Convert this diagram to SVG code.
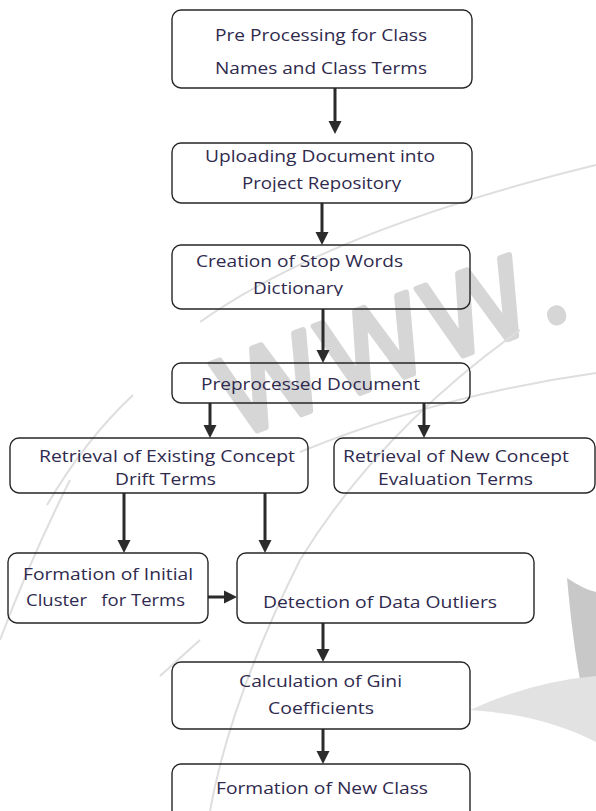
<svg xmlns="http://www.w3.org/2000/svg" width="596" height="811" viewBox="0 0 596 811">
<style>
.box{fill:none;stroke:#262626;stroke-width:1.4}
.t{font-family:"Open Sans","Liberation Sans",sans-serif;font-size:16.5px;fill:#2f2a4e}
.c{stroke:#2b2b2b;stroke-width:3;fill:none}
.wm{fill:none;stroke:#dedede;stroke-width:2}
</style>
<defs>
<marker id="ah" markerUnits="userSpaceOnUse" markerWidth="14" markerHeight="14" refX="3" refY="7" orient="auto">
<path d="M0,0.5 L13,7 L0,13.5 z" fill="#2b2b2b"/>
</marker>
<clipPath id="clipA"><rect x="0" y="170" width="596" height="22"/></clipPath>
<clipPath id="clipB"><rect x="0" y="275" width="596" height="21"/></clipPath>
</defs>
<rect width="596" height="811" fill="#ffffff"/>
<g id="watermark">
<text x="236" y="438" transform="rotate(-20 236 438)" font-family="Open Sans, Liberation Sans, sans-serif" font-size="110" letter-spacing="8" fill="#d6d6d6" stroke="#d6d6d6" stroke-width="6" stroke-linejoin="round">WWW.</text>
<path class="wm" d="M200,322 Q330,230 596,165"/>
<path class="wm" d="M300,452 Q440,395 596,373"/>
<path class="wm" d="M47,505 Q85,440 133,395"/>
<path class="wm" d="M0,640 Q30,560 70,480"/>
<path class="wm" d="M210,811 Q230,700 300,560 Q380,430 520,330"/>
<path class="wm" d="M160,676 L200,640"/>
<path d="M567,578 Q585,590 596,592 L596,735 Q578,700 567,578 Z" fill="#c8c8c8"/>
<path d="M470,710 Q530,682 596,676 L596,742 Q540,714 470,710 Z" fill="#e2e2e2"/>
</g>
<g id="connectors">
<line class="c" x1="335" y1="88" x2="335" y2="124" marker-end="url(#ah)"/>
<line class="c" x1="322" y1="203" x2="322" y2="235" marker-end="url(#ah)"/>
<line class="c" x1="323" y1="309" x2="323" y2="353" marker-end="url(#ah)"/>
<line class="c" x1="210" y1="403" x2="210" y2="428" marker-end="url(#ah)"/>
<line class="c" x1="424" y1="403" x2="424" y2="428" marker-end="url(#ah)"/>
<line class="c" x1="124" y1="493" x2="124" y2="543" marker-end="url(#ah)"/>
<line class="c" x1="265" y1="493" x2="265" y2="543" marker-end="url(#ah)"/>
<line class="c" x1="208" y1="597" x2="227" y2="597" marker-end="url(#ah)"/>
<line class="c" x1="323" y1="623" x2="323" y2="652" marker-end="url(#ah)"/>
<line class="c" x1="323" y1="729" x2="323" y2="754" marker-end="url(#ah)"/>
</g>
<g id="n1">
<rect class="box" x="172" y="10" width="300" height="78" rx="9"/>
<text class="t" x="215" y="41" textLength="212" lengthAdjust="spacingAndGlyphs">Pre Processing for Class</text>
<text class="t" x="215" y="74" textLength="212" lengthAdjust="spacingAndGlyphs">Names and Class Terms</text>
</g>
<g id="n2">
<rect class="box" x="172" y="143" width="300" height="60" rx="9"/>
<text class="t" x="205" y="162" textLength="230" lengthAdjust="spacingAndGlyphs">Uploading Document into</text>
<text class="t" x="242" y="189" textLength="159" lengthAdjust="spacingAndGlyphs" clip-path="url(#clipA)">Project Repository</text>
</g>
<g id="n3">
<rect class="box" x="172" y="245" width="298" height="64" rx="9"/>
<text class="t" x="196" y="267" textLength="207" lengthAdjust="spacingAndGlyphs">Creation of Stop Words</text>
<text class="t" x="253" y="294" textLength="90" lengthAdjust="spacingAndGlyphs" clip-path="url(#clipB)">Dictionary</text>
</g>
<g id="n4">
<rect class="box" x="172" y="363" width="298" height="40" rx="9"/>
<text class="t" x="201" y="390" textLength="219" lengthAdjust="spacingAndGlyphs">Preprocessed Document</text>
</g>
<g id="n5">
<rect class="box" x="10" y="438" width="298" height="55" rx="9"/>
<text class="t" x="39" y="462" textLength="256" lengthAdjust="spacingAndGlyphs">Retrieval of Existing Concept</text>
<text class="t" x="115" y="485" textLength="101" lengthAdjust="spacingAndGlyphs">Drift Terms</text>
</g>
<g id="n6">
<rect class="box" x="334" y="438" width="261" height="55" rx="9"/>
<text class="t" x="343" y="462" textLength="226" lengthAdjust="spacingAndGlyphs">Retrieval of New Concept</text>
<text class="t" x="378" y="485" textLength="155" lengthAdjust="spacingAndGlyphs">Evaluation Terms</text>
</g>
<g id="n7">
<rect class="box" x="8" y="553" width="200" height="70" rx="9"/>
<text class="t" x="23" y="580" textLength="170" lengthAdjust="spacingAndGlyphs">Formation of Initial</text>
<text class="t" x="26" y="606" textLength="159" lengthAdjust="spacingAndGlyphs" xml:space="preserve">Cluster   for Terms</text>
</g>
<g id="n8">
<rect class="box" x="237" y="553" width="297" height="70" rx="9"/>
<text class="t" x="263" y="608" textLength="234" lengthAdjust="spacingAndGlyphs">Detection of Data Outliers</text>
</g>
<g id="n9">
<rect class="box" x="172" y="662" width="298" height="67" rx="9"/>
<text class="t" x="239" y="687" textLength="163" lengthAdjust="spacingAndGlyphs">Calculation of Gini</text>
<text class="t" x="268" y="714" textLength="106" lengthAdjust="spacingAndGlyphs">Coefficients</text>
</g>
<g id="n10">
<rect class="box" x="172" y="764" width="298" height="70" rx="9"/>
<text class="t" x="216" y="794" textLength="212" lengthAdjust="spacingAndGlyphs">Formation of New Class</text>
</g>
</svg>
